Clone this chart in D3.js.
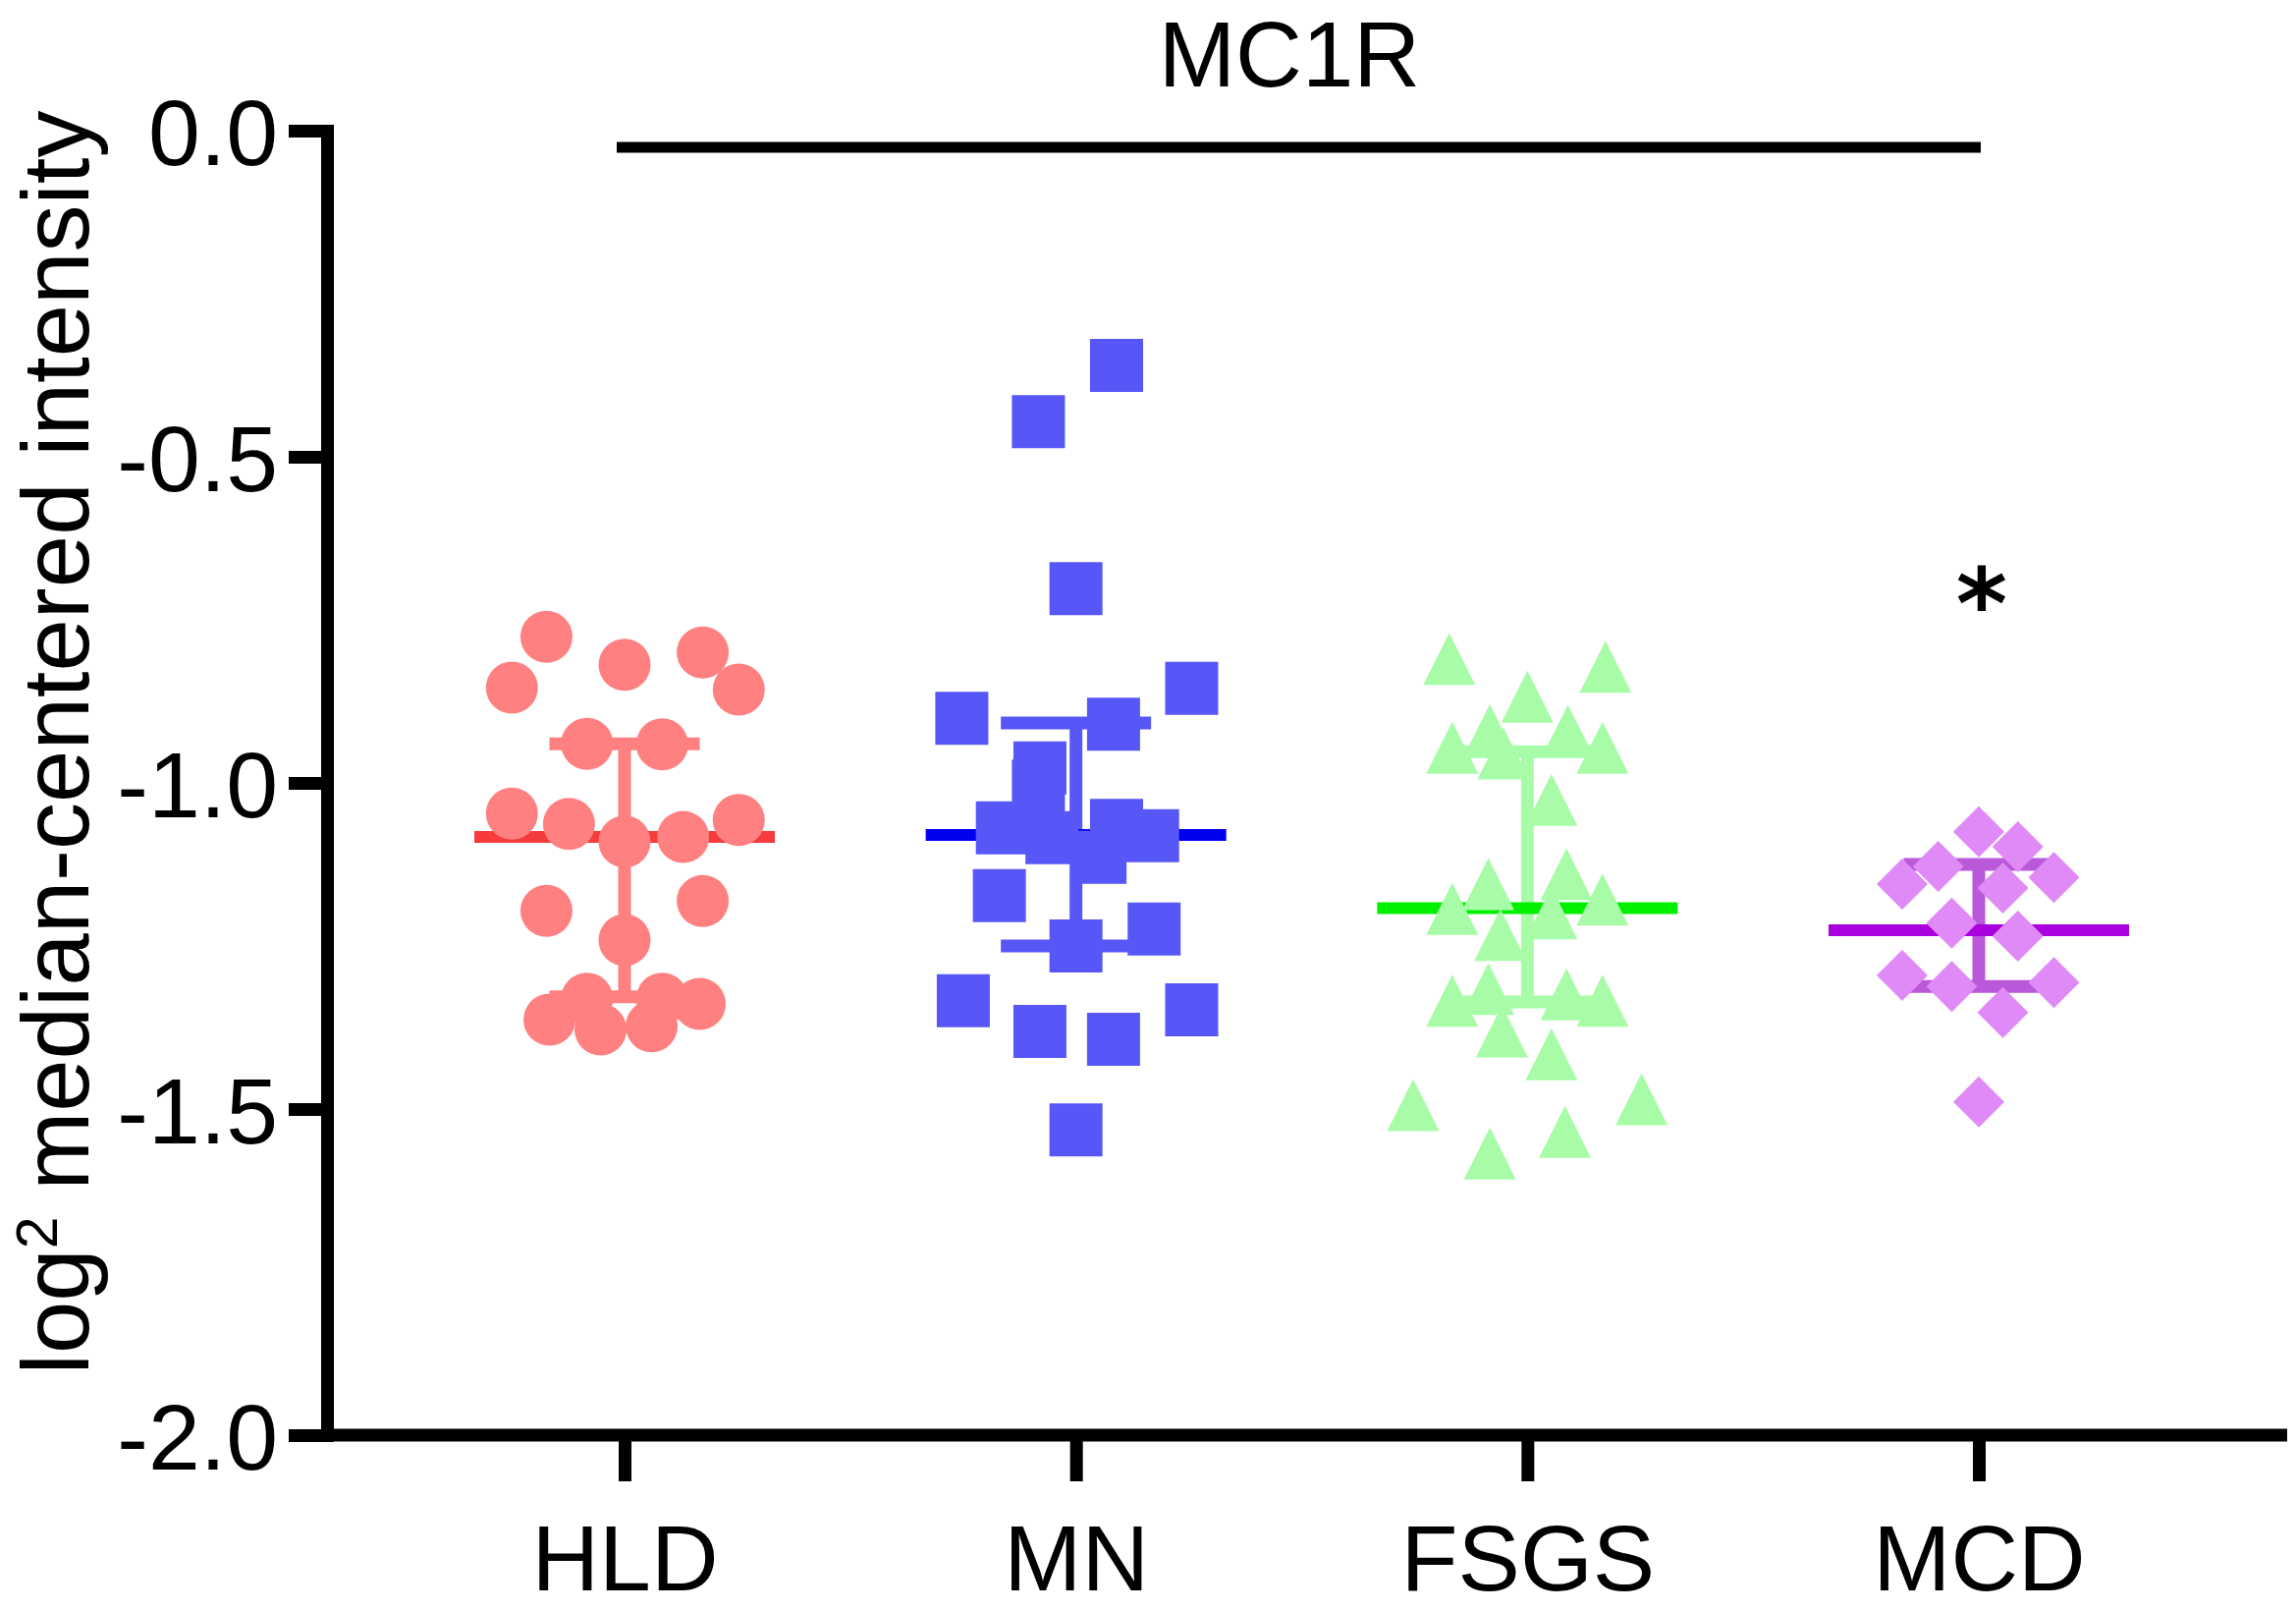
<!DOCTYPE html>
<html>
<head>
<meta charset="utf-8">
<script src="https://cdn.jsdelivr.net/npm/d3@7"></script>
<style>
  body { margin: 0; background: #fff; }
  svg { display: block; font-family: "Liberation Sans", Arial, sans-serif; }
  .axis path, .axis line { stroke: #000; stroke-width: 13px; }
  .axis text { fill: #000; }
</style>
</head>
<body>
<svg id="chart"></svg>
<script>
// groups on the x axis
const categories = ["HLD", "MN", "FSGS", "MCD"];
const yTicks = [0, -0.5, -1, -1.5, -2];

// log2 median-centered intensity, one value per sample
const hldValues = [-0.776, -0.854, -0.819, -0.800, -0.857, -0.940, -0.941, -1.047, -1.063, -1.090, -1.083,
  -1.057, -1.196, -1.181, -1.241, -1.331, -1.331, -1.339, -1.363, -1.378, -1.373];
const mnValues = [-0.360, -0.446, -0.702, -0.855, -0.901, -0.910, -0.977, -1.005, -1.069, -1.084, -1.065,
  -1.081, -1.114, -1.173, -1.250, -1.224, -1.334, -1.381, -1.393, -1.348, -1.532];
const fsgsValues = [-0.810, -0.822, -0.868, -0.919, -0.920, -0.946, -0.946, -0.955, -1.026, -1.155, -1.140,
  -1.193, -1.179, -1.233, -1.200, -1.334, -1.316, -1.324, -1.334, -1.381, -1.416, -1.494, -1.485, -1.535, -1.568];
const mcdValues = [-1.075, -1.098, -1.128, -1.145, -1.155, -1.161, -1.215, -1.235, -1.295, -1.312, -1.306,
  -1.352, -1.489];

// horizontal spread of each sample inside its group (-1 .. 1)
const hldSpread = [-0.52, -0.75, 0, 0.52, 0.76, -0.25, 0.25, -0.75, -0.37, 0, 0.39, 0.76, -0.52, 0.52, 0,
  -0.25, 0.25, 0.50, -0.50, -0.16, 0.18];
const mnSpread = [0.27, -0.25, 0, 0.77, -0.76, 0.25, -0.24, -0.25, -0.49, -0.16, 0.27, 0.51, 0.16, -0.51, 0,
  0.52, -0.75, -0.24, 0.25, 0.77, 0];
const fsgsSpread = [-0.52, 0.52, 0, -0.25, 0.27, -0.50, 0.50, -0.16, 0.16, -0.26, 0.26, -0.50, 0.50, -0.18,
  0.16, -0.50, -0.26, 0.26, 0.50, -0.17, 0.16, -0.76, 0.76, 0.25, -0.25];
const mcdSpread = [0, 0.26, -0.27, 0.50, -0.51, 0.16, -0.18, 0.26, -0.51, -0.18, 0.50, 0.16, 0];

// median with interquartile range
const medians = [-1.083, -1.080, -1.192, -1.226];
const quartileUpper = [-0.940, -0.908, -0.952, -1.125];
const quartileLower = [-1.328, -1.250, -1.336, -1.312];

const title = "MC1R";
const significance = "*";

const WIDTH = 2338, HEIGHT = 1639;
const MARGIN = {top: 133, right: 9, bottom: 178, left: 333};

const groups = [hldValues, mnValues, fsgsValues, mcdValues];
const spreads = [hldSpread, mnSpread, fsgsSpread, mcdSpread];
const pointColors = ["#ff8080", "#5757f8", "#a8fca8", "#df8af6"];
const medianColors = ["#f53b3b", "#0000ee", "#00f000", "#aa00dd"];
const barColors = ["#ff8080", "#5757f8", "#a8fca8", "#b958d9"];

// prism-like marker shapes, all about 53px across
const shapes = [
  {draw(ctx, s) { const r = Math.sqrt(s / Math.PI); ctx.moveTo(r, 0); ctx.arc(0, 0, r, 0, 2 * Math.PI); }},
  {draw(ctx, s) { const h = Math.sqrt(s) / 2; ctx.rect(-h, -h, 2 * h, 2 * h); }},
  {draw(ctx, s) { const h = Math.sqrt(s) / 2; ctx.moveTo(0, -h); ctx.lineTo(h, h); ctx.lineTo(-h, h); ctx.closePath(); }},
  {draw(ctx, s) { const h = Math.sqrt(s) / 2; ctx.moveTo(0, -h); ctx.lineTo(h, 0); ctx.lineTo(0, h); ctx.lineTo(-h, 0); ctx.closePath(); }}
];
const shapeSizes = [Math.PI * 26.5 * 26.5, 54 * 54, 53 * 53, 52 * 52];

const svg = d3.select("#chart")
  .attr("width", WIDTH)
  .attr("height", HEIGHT);

const x = d3.scalePoint()
  .domain(categories)
  .range([636, 2015]);

const y = d3.scaleLinear()
  .domain([-2, 0])
  .range([HEIGHT - MARGIN.bottom, MARGIN.top]);

// spread inside a group, in pixels
const dx = d3.scaleLinear().domain([-1, 1]).range([-153, 153]);

// axes
svg.append("g")
  .attr("class", "x axis")
  .attr("transform", `translate(0,${y(-2)})`)
  .call(d3.axisBottom(x).tickSize(47).tickSizeOuter(0))
  .call(g => g.select(".domain").attr("d", `M${MARGIN.left},0H${WIDTH - MARGIN.right}`))
  .selectAll("text")
    .attr("dy", null)
    .attr("y", 158)
    .style("font-size", "95px");

svg.append("g")
  .attr("class", "y axis")
  .attr("transform", `translate(${MARGIN.left},0)`)
  .call(d3.axisLeft(y).tickValues(yTicks).tickFormat(d => d.toFixed(1)).tickSize(39).tickPadding(11).tickSizeOuter(0))
  .call(g => g.select(".domain").attr("stroke-linecap", "square"))
  .selectAll("text")
    .attr("dy", "0.36em")
    .style("font-size", "95px");

// y axis title, rotated
const yLabel = svg.append("text")
  .attr("transform", `translate(90,${(y(0) + y(-2)) / 2 - 41}) rotate(-90)`)
  .attr("text-anchor", "middle")
  .style("font-size", "96px");
yLabel.append("tspan").text("log");
yLabel.append("tspan").attr("dy", -32).style("font-size", "59px").text("2");
yLabel.append("tspan").attr("dy", 32).text(" median-centered intensity");

svg.append("text")
  .attr("x", 1313)
  .attr("y", 88)
  .attr("text-anchor", "middle")
  .style("font-size", "94px")
  .text(title);

// significance bar HLD vs MCD
svg.append("line")
  .attr("x1", x("HLD") - 8)
  .attr("x2", x("MCD") + 2)
  .attr("y1", y(0) + 17)
  .attr("y2", y(0) + 17)
  .attr("stroke", "#000")
  .attr("stroke-width", 11);

categories.forEach((cat, i) => {
  const cx = x(cat);
  const g = svg.append("g").attr("class", "group " + cat);

  // interquartile range with caps
  g.append("path")
    .attr("d", `M${cx + dx(-0.5)},${y(quartileUpper[i])}H${cx + dx(0.5)}M${cx},${y(quartileUpper[i])}V${y(quartileLower[i])}M${cx + dx(-0.5)},${y(quartileLower[i])}H${cx + dx(0.5)}`)
    .attr("fill", "none")
    .attr("stroke", barColors[i])
    .attr("stroke-width", 13);

  g.append("line")
    .attr("x1", cx + dx(-1))
    .attr("x2", cx + dx(1))
    .attr("y1", y(medians[i]))
    .attr("y2", y(medians[i]))
    .attr("stroke", medianColors[i])
    .attr("stroke-width", 12);

  g.selectAll("path.point")
    .data(groups[i].map((v, j) => ({v, s: spreads[i][j]})))
    .join("path")
    .attr("class", "point")
    .attr("transform", d => `translate(${cx + dx(d.s)},${y(d.v)})`)
    .attr("d", d3.symbol().type(shapes[i]).size(shapeSizes[i]))
    .attr("fill", pointColors[i]);
});

svg.append("text")
  .attr("x", x("MCD") + 3)
  .attr("y", 650)
  .attr("text-anchor", "middle")
  .style("font-family", "'DejaVu Sans', sans-serif")
  .style("font-weight", "bold")
  .style("font-size", "100px")
  .text(significance);
</script>
</body>
</html>
